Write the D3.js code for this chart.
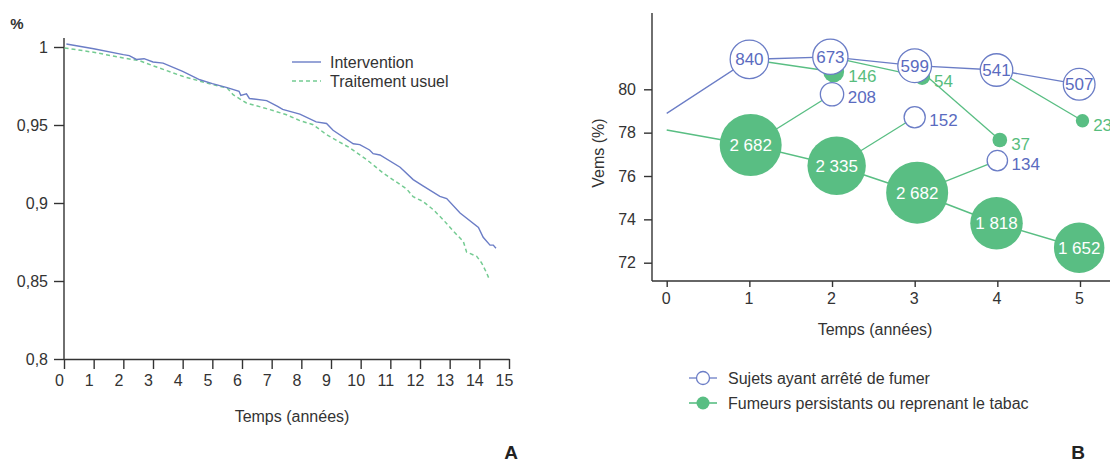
<!DOCTYPE html>
<html>
<head>
<meta charset="utf-8">
<script src="https://cdn.jsdelivr.net/npm/d3@7"></script>
<style>
  body { margin: 0; background: #fff; }
  svg { font-family: "Liberation Sans", Arial, sans-serif; }
</style>
</head>
<body>
<svg id="chart" width="1110" height="462"></svg>
<script>
// ======= panel A data (survival curves)
var intervT = [0.08, 1, 2, 2.2, 2.44, 2.7, 3, 3.34, 4, 4.58, 5, 5.5, 5.9, 5.96, 6.15, 6.25, 6.83, 7.2, 7.37, 7.95, 8.5, 8.85, 9.07, 9.75, 9.97, 10.3, 10.42, 10.65, 11.33, 11.77, 12.1, 12.67, 12.9, 13.35, 13.97, 14.13, 14.36, 14.47, 14.56];
var intervS = [1.0019, 0.9989, 0.9951, 0.9945, 0.992, 0.9925, 0.9904, 0.9897, 0.9844, 0.979, 0.9765, 0.974, 0.9716, 0.969, 0.970, 0.967, 0.9656, 0.962, 0.960, 0.957, 0.952, 0.951, 0.9466, 0.938, 0.9374, 0.934, 0.9316, 0.9308, 0.9229, 0.915, 0.911, 0.9043, 0.9028, 0.8936, 0.8844, 0.878, 0.873, 0.873, 0.871];
var usualT = [0.02, 1, 2, 2.55, 3, 4, 5, 5.5, 5.7, 6.15, 6.83, 7.5, 7.95, 8.4, 8.85, 9.64, 10.2, 10.76, 11.33, 11.55, 11.77, 12.1, 12.45, 12.78, 13.12, 13.46, 13.57, 13.91, 14.08, 14.25, 14.34];
var usualS = [0.9994, 0.9966, 0.993, 0.9912, 0.988, 0.9812, 0.9759, 0.9737, 0.9694, 0.9641, 0.9605, 0.9566, 0.9528, 0.9502, 0.9438, 0.9353, 0.9278, 0.9192, 0.9118, 0.909, 0.904, 0.901, 0.8957, 0.8893, 0.882, 0.8754, 0.8686, 0.8658, 0.8615, 0.855, 0.8509];
var ticksA_x = d3.range(0, 16);
var ticksA_y = [0.8, 0.85, 0.9, 0.95, 1];

// ======= panel B data (Vems by year)
var quitT = [0, 1, 1.98, 3, 3.99, 4.99];
var quitV = [78.89, 81.38, 81.5, 81.09, 80.89, 80.23];
var quitN = [null, 840, 673, 599, 541, 507];
var smokeT = [0, 1.016, 2.056, 3.03, 3.99, 4.99];
var smokeV = [78.12, 77.43, 76.47, 75.23, 73.82, 72.69];
var smokeN = [null, 2682, 2335, 2682, 1818, 1652];
// smokers who quit the following year
var newQuitT = [2, 3, 4];
var newQuitV = [79.77, 78.71, 76.71];
var newQuitN = [208, 152, 134];
// quitters who relapse the following year
var relapseT = [2.02, 3.09, 4.03, 5.03];
var relapseV = [80.81, 80.57, 77.66, 78.55];
var relapseN = [146, 54, 37, 23];
var ticksB_x = [0, 1, 2, 3, 4, 5];
var ticksB_y = [72, 74, 76, 78, 80];

var blue = "#6b7dc6", blueText = "#5a6bc0";
var green = "#59be83", greenText = "#57bd7d", greenDash = "#74cb92";
var ink = "#333";

var svg = d3.select("#chart");

// ======================= PANEL A
var xA = d3.scaleLinear().domain([0, 15]).range([64, 509]);
var yA = d3.scaleLinear().domain([0.8, 1]).range([359, 47]);

var gA = svg.append("g");

gA.append("g")
  .attr("transform", "translate(0,359)")
  .call(d3.axisBottom(xA).tickValues(ticksA_x).tickSize(10).tickSizeOuter(0).tickPadding(6)
    .tickFormat(d3.format("d")))
  .call(function(g) {
    g.select(".domain").attr("stroke", ink).attr("stroke-width", 1.4);
    g.selectAll(".tick line").attr("stroke", ink).attr("stroke-width", 1.4);
    g.selectAll(".tick text").attr("fill", ink).attr("font-size", "16px").attr("dx", -5)
      .attr("font-family", "Liberation Sans, Arial, sans-serif");
  });

gA.append("g")
  .attr("transform", "translate(64,0)")
  .call(d3.axisLeft(yA).tickValues(ticksA_y).tickSize(10).tickSizeOuter(0).tickPadding(6)
    .tickFormat(function(d) { return d3.format(".2~f")(d).replace(".", ","); }))
  .call(function(g) {
    g.select(".domain").remove();
    g.selectAll(".tick line").attr("stroke", ink).attr("stroke-width", 1.4);
    g.selectAll(".tick text").attr("fill", ink).attr("font-size", "16px")
      .attr("font-family", "Liberation Sans, Arial, sans-serif");
  });

gA.append("line")
  .attr("x1", 64).attr("x2", 64).attr("y1", 38).attr("y2", 359)
  .attr("stroke", ink).attr("stroke-width", 1.4);

var lineA = d3.line()
  .x(function(d) { return xA(d[0]); })
  .y(function(d) { return yA(d[1]); });

gA.append("path")
  .datum(d3.zip(usualT, usualS))
  .attr("d", lineA)
  .attr("fill", "none")
  .attr("stroke", greenDash)
  .attr("stroke-width", 1.5)
  .attr("stroke-dasharray", "4,3");

gA.append("path")
  .datum(d3.zip(intervT, intervS))
  .attr("d", lineA)
  .attr("fill", "none")
  .attr("stroke", blue)
  .attr("stroke-width", 1.4);

// legend A
gA.append("line").attr("x1", 292).attr("x2", 321).attr("y1", 62).attr("y2", 62)
  .attr("stroke", blue).attr("stroke-width", 1.4);
gA.append("line").attr("x1", 292).attr("x2", 321).attr("y1", 81).attr("y2", 81)
  .attr("stroke", greenDash).attr("stroke-width", 1.5).attr("stroke-dasharray", "4,3");
gA.append("text").attr("x", 330).attr("y", 62).attr("dy", "0.35em")
  .attr("font-size", "16px").attr("fill", ink).text("Intervention");
gA.append("text").attr("x", 330).attr("y", 81).attr("dy", "0.35em")
  .attr("font-size", "16px").attr("fill", ink).text("Traitement usuel");

gA.append("text").attr("x", 292).attr("y", 416).attr("dy", "0.35em")
  .attr("text-anchor", "middle").attr("font-size", "16px").attr("fill", ink)
  .text("Temps (années)");
gA.append("text").attr("x", 17).attr("y", 24).attr("dy", "0.35em")
  .attr("text-anchor", "middle").attr("font-size", "15px").attr("font-weight", "bold")
  .attr("fill", ink).text("%");
gA.append("text").attr("x", 511).attr("y", 452).attr("dy", "0.35em")
  .attr("text-anchor", "middle").attr("font-size", "19px").attr("font-weight", "bold")
  .attr("fill", "#222").text("A");

// ======================= PANEL B
var xB = d3.scaleLinear().domain([0, 5]).range([666.7, 1080]);
var yB = d3.scaleLinear().domain([72, 80]).range([262.7, 89.3]);
var rB = d3.scaleSqrt().domain([0, 2682]).range([4.2, 31]);

var gB = svg.append("g");

gB.append("g")
  .attr("transform", "translate(0,281)")
  .call(d3.axisBottom(xB).tickValues(ticksB_x).tickSize(6).tickSizeOuter(0).tickPadding(6)
    .tickFormat(d3.format("d")))
  .call(function(g) {
    g.select(".domain").remove();
    g.selectAll(".tick line").attr("stroke", ink).attr("stroke-width", 1.4);
    g.selectAll(".tick text").attr("fill", ink).attr("font-size", "16px").attr("dx", -1)
      .attr("font-family", "Liberation Sans, Arial, sans-serif");
  });

gB.append("g")
  .attr("transform", "translate(652,0)")
  .call(d3.axisLeft(yB).tickValues(ticksB_y).tickSize(8).tickSizeOuter(0).tickPadding(8)
    .tickFormat(d3.format("d")))
  .call(function(g) {
    g.select(".domain").remove();
    g.selectAll(".tick line").attr("stroke", ink).attr("stroke-width", 1.4);
    g.selectAll(".tick text").attr("fill", ink).attr("font-size", "16px")
      .attr("font-family", "Liberation Sans, Arial, sans-serif");
  });

gB.append("line").attr("x1", 652).attr("x2", 652).attr("y1", 13).attr("y2", 281)
  .attr("stroke", ink).attr("stroke-width", 1.4);
gB.append("line").attr("x1", 652).attr("x2", 1110).attr("y1", 281).attr("y2", 281)
  .attr("stroke", ink).attr("stroke-width", 1.4);

var quit = quitT.map(function(t, i) { return { t: t, v: quitV[i], n: quitN[i] }; });
var smoke = smokeT.map(function(t, i) { return { t: t, v: smokeV[i], n: smokeN[i] }; });
var newQuit = newQuitT.map(function(t, i) { return { t: t, v: newQuitV[i], n: newQuitN[i] }; });
var relapse = relapseT.map(function(t, i) { return { t: t, v: relapseV[i], n: relapseN[i] }; });

var lineB = d3.line()
  .x(function(d) { return xB(d.t); })
  .y(function(d) { return yB(d.v); });

// ======= transition lines (green): smokers -> new quitters, quitters -> relapse
var links = [];
newQuit.forEach(function(d, i) { links.push([smoke[i + 1], d]); });
relapse.forEach(function(d, i) { links.push([quit[i + 1], d]); });

gB.selectAll(".link")
  .data(links)
  .enter()
  .append("path")
  .attr("d", lineB)
  .attr("fill", "none")
  .attr("stroke", green)
  .attr("stroke-width", 1.3);

gB.append("path").datum(smoke).attr("d", lineB)
  .attr("fill", "none").attr("stroke", green).attr("stroke-width", 1.6);
gB.append("path").datum(quit).attr("d", lineB)
  .attr("fill", "none").attr("stroke", blue).attr("stroke-width", 1.3);

// ======= green bubbles (persistent smokers)
var smokeDots = smoke.filter(function(d) { return d.n; });
gB.selectAll(".bubble")
  .data(smokeDots)
  .enter()
  .append("circle")
  .attr("cx", function(d) { return xB(d.t); })
  .attr("cy", function(d) { return yB(d.v); })
  .attr("r", function(d) { return rB(d.n); })
  .attr("fill", green);

gB.selectAll(".bubbleText")
  .data(smokeDots)
  .enter()
  .append("text")
  .attr("x", function(d) { return xB(d.t); })
  .attr("y", function(d) { return yB(d.v); })
  .attr("dy", "0.35em")
  .attr("text-anchor", "middle")
  .attr("font-size", "17px")
  .attr("fill", "#fff")
  .text(function(d) { return d3.format(",")(d.n).replace(",", " "); });

// ======= small green dots (relapse)
gB.selectAll(".relapse")
  .data(relapse)
  .enter()
  .append("circle")
  .attr("cx", function(d) { return xB(d.t); })
  .attr("cy", function(d) { return yB(d.v); })
  .attr("r", function(d) { return rB(d.n); })
  .attr("fill", green);

gB.selectAll(".relapseText")
  .data(relapse)
  .enter()
  .append("text")
  .attr("x", function(d) { return xB(d.t) + rB(d.n) + 4; })
  .attr("y", function(d) { return yB(d.v) + 4; })
  .attr("dy", "0.35em")
  .attr("font-size", "17px")
  .attr("fill", greenText)
  .text(function(d) { return d.n; });

// ======= blue open circles (quitters)
var quitDots = quit.filter(function(d) { return d.n; }).concat(newQuit);
gB.selectAll(".quit")
  .data(quitDots)
  .enter()
  .append("circle")
  .attr("cx", function(d) { return xB(d.t); })
  .attr("cy", function(d) { return yB(d.v); })
  .attr("r", function(d) { return rB(d.n); })
  .attr("fill", "#fff")
  .attr("stroke", blue)
  .attr("stroke-width", 1.3);

gB.selectAll(".quitText")
  .data(quit.filter(function(d) { return d.n; }))
  .enter()
  .append("text")
  .attr("x", function(d) { return xB(d.t); })
  .attr("y", function(d) { return yB(d.v); })
  .attr("dy", "0.35em")
  .attr("text-anchor", "middle")
  .attr("font-size", "17px")
  .attr("fill", blueText)
  .text(function(d) { return d.n; });

gB.selectAll(".newQuitText")
  .data(newQuit)
  .enter()
  .append("text")
  .attr("x", function(d) { return xB(d.t) + rB(d.n) + 4; })
  .attr("y", function(d) { return yB(d.v) + 3; })
  .attr("dy", "0.35em")
  .attr("font-size", "17px")
  .attr("fill", blueText)
  .text(function(d) { return d.n; });

// ======= axis titles + legend B
gB.append("text").attr("x", 875).attr("y", 329).attr("dy", "0.35em")
  .attr("text-anchor", "middle").attr("font-size", "16px").attr("fill", ink)
  .text("Temps (années)");
gB.append("text")
  .attr("transform", "translate(598,153) rotate(-90)")
  .attr("dy", "0.35em")
  .attr("text-anchor", "middle").attr("font-size", "16px").attr("fill", ink)
  .text("Vems (%)");

gB.append("line").attr("x1", 689).attr("x2", 717).attr("y1", 378).attr("y2", 378)
  .attr("stroke", blue).attr("stroke-width", 1.3);
gB.append("circle").attr("cx", 703).attr("cy", 378).attr("r", 6.5)
  .attr("fill", "#fff").attr("stroke", blue).attr("stroke-width", 1.3);
gB.append("line").attr("x1", 689).attr("x2", 717).attr("y1", 403).attr("y2", 403)
  .attr("stroke", green).attr("stroke-width", 1.6);
gB.append("circle").attr("cx", 703).attr("cy", 403).attr("r", 6.5)
  .attr("fill", green);
gB.append("text").attr("x", 728).attr("y", 378).attr("dy", "0.35em")
  .attr("font-size", "16px").attr("fill", ink).text("Sujets ayant arrêté de fumer");
gB.append("text").attr("x", 728).attr("y", 403).attr("dy", "0.35em")
  .attr("font-size", "16px").attr("fill", ink).text("Fumeurs persistants ou reprenant le tabac");

gB.append("text").attr("x", 1078).attr("y", 452).attr("dy", "0.35em")
  .attr("text-anchor", "middle").attr("font-size", "19px").attr("font-weight", "bold")
  .attr("fill", "#222").text("B");
</script>
</body>
</html>
